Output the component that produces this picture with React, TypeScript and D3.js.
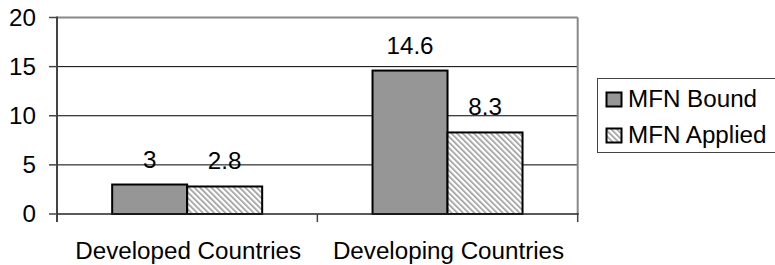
import React from "react";
import * as d3 from "d3";

const categories = ["Developed Countries", "Developing Countries"];
const seriesNames = ["MFN Bound", "MFN Applied"];
const mfnBound = [3, 14.6];
const mfnApplied = [2.8, 8.3];
const yTicks = [0, 5, 10, 15, 20];

const W = 775;
const H = 265;
const FONT = "'Liberation Sans', Arial, sans-serif";
const FS = 24.2;

export default function App() {
  const left = 57;
  const right = 577.7;
  const top = 17.5;
  const bottom = 214;

  const y = d3.scaleLinear().domain([0, 20]).range([bottom, top]);
  const x = d3.scaleBand<string>().domain(categories).range([left, right]).padding(0);
  const values = [mfnBound, mfnApplied];
  const fills = ["#969696", "url(#hatch)"];

  const groupW = 150;

  return (
    <svg width={W} height={H} style={{ position: "absolute", left: 0, top: 0, background: "#fff" }}>
      <defs>
        <pattern id="hatch" patternUnits="userSpaceOnUse" width={4} height={4} patternTransform="rotate(-45)">
          <rect width={4} height={4} fill="#fff" />
          <rect x={0} y={0} width={1.6} height={4} fill="#9a9a9a" />
        </pattern>
      </defs>
      {yTicks.filter((t) => t > 0 && t < 20).map((t) => (
        <line key={t} x1={left} x2={right} y1={y(t)} y2={y(t)} stroke="#000" strokeWidth={1} />
      ))}
      <line x1={left} x2={right} y1={y(20)} y2={y(20)} stroke="#888" strokeWidth={2} />
      <line x1={right} x2={right} y1={y(20)} y2={bottom} stroke="#888" strokeWidth={2} />
      {categories.map((c, ci) => {
        const center = (x(c) as number) + x.bandwidth() / 2;
        const sub = d3.scaleBand<string>().domain(seriesNames).range([center - groupW / 2, center + groupW / 2]);
        return seriesNames.map((s, si) => {
          const v = values[si][ci];
          const bx = sub(s) as number;
          return (
            <g key={c + s}>
              <rect x={bx} y={y(v)} width={sub.bandwidth()} height={bottom - y(v)} fill={fills[si]} stroke="#000" strokeWidth={2} />
              <text x={bx + sub.bandwidth() / 2} y={y(v) - 17} textAnchor="middle" fontFamily={FONT} fontSize={FS} fill="#000">
                {v}
              </text>
            </g>
          );
        });
      })}
      <line x1={left} x2={left} y1={top - 1} y2={bottom + 8} stroke="#444" strokeWidth={2} />
      {yTicks.map((t) => (
        <g key={t}>
          <line x1={left - 8} x2={left} y1={y(t)} y2={y(t)} stroke="#444" strokeWidth={1.5} />
          <text x={36} y={y(t)} dy="0.35em" textAnchor="end" fontFamily={FONT} fontSize={FS} fill="#000">
            {t}
          </text>
        </g>
      ))}
      <line x1={left} x2={right + 1} y1={bottom} y2={bottom} stroke="#222" strokeWidth={1.5} />
      {[...categories.map((c) => x(c) as number), right].map((px, i) => (
        <line key={i} x1={px} x2={px} y1={bottom} y2={bottom + 8} stroke="#444" strokeWidth={1.5} />
      ))}
      {categories.map((c) => (
        <text key={c} x={(x(c) as number) + x.bandwidth() / 2 + 1} y={259} textAnchor="middle" fontFamily={FONT} fontSize={FS} fill="#000">
          {c}
        </text>
      ))}
      <rect x={597.5} y={78.5} width={190} height={74} fill="#fff" stroke="#444" strokeWidth={1} />
      {seriesNames.map((s, i) => (
        <g key={s}>
          <rect x={606.5} y={92.5 + i * 36} width={15} height={14} fill={fills[i]} stroke="#000" strokeWidth={2} />
          <text x={628} y={106.7 + i * 36} fontFamily={FONT} fontSize={FS} fill="#000">
            {s}
          </text>
        </g>
      ))}
    </svg>
  );
}
